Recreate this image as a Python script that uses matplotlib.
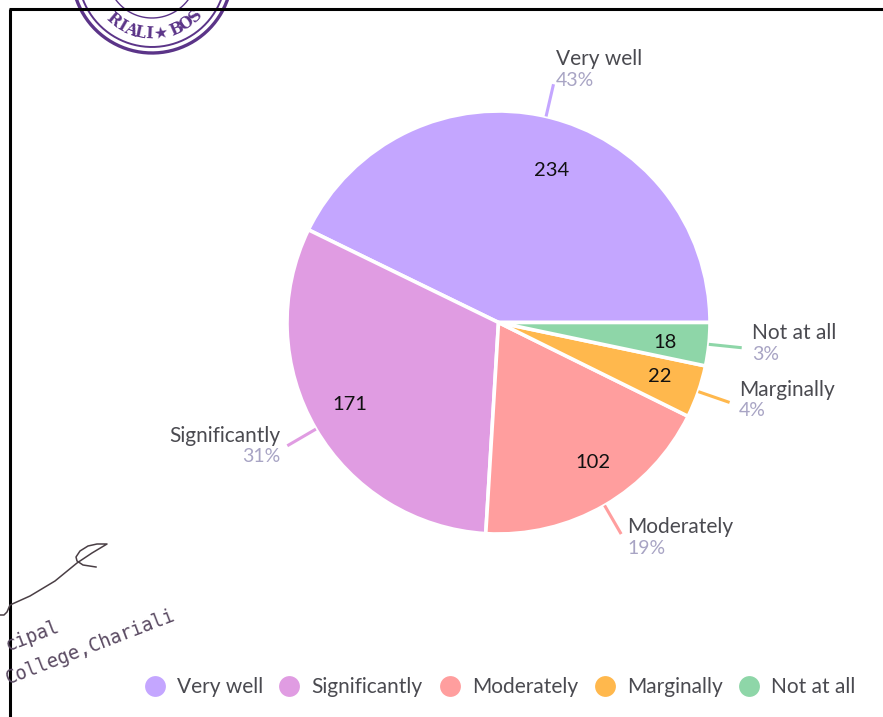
import numpy as np
import matplotlib
matplotlib.use("Agg")
import matplotlib.pyplot as plt

W, H = 883, 717

# data
categories = ["Very well", "Significantly", "Moderately", "Marginally", "Not at all"]
counts = [234, 171, 102, 22, 18]
percents = ["43%", "31%", "19%", "4%", "3%"]
colors = ["#C4A6FF", "#E09CE2", "#FF9E9E", "#FFB84D", "#8ED6A8"]

# label positions in pixels from top left
count_pos = [(552, 171), (350, 405), (593, 462), (660, 377), (665, 342)]
name_pos = [(556, 59), (280, 436), (627, 527), (739, 390), (752, 333)]
name_ha = ["left", "right", "left", "left", "left"]
legend_x = [155, 289, 450, 605, 749]

CX, CY, R = 498.5, 322.5, 211.5
TEXT = "#4A4A50"
PCT = "#A8A4C4"
FONT = "Lato"


def yy(y):
    return H - y


fig = plt.figure(figsize=(W / 100, H / 100), dpi=100)
ax = fig.add_axes([0, 0, 1, 1])
ax.set_xlim(0, W)
ax.set_ylim(0, H)
ax.axis("off")

# stamp, clipped by the top of the page
STAMP = "#5B3488"
sx, sy, t = 152, yy(-27), np.linspace(0, 2 * np.pi, 300)
for r, lw in [(80, 2.4), (74, 1.4), (45, 1.0)]:
    ax.plot(sx + r * np.cos(t), sy + r * np.sin(t), color=STAMP, lw=lw, zorder=1)
for ch, a in zip("RIALI★BOS", [230, 240, 249, 258, 267, 279, 294, 305, 316]):
    rad = np.radians(a)
    ax.text(sx + 61 * np.cos(rad), sy + 61 * np.sin(rad), ch, color=STAMP, fontsize=11.5,
            fontweight="bold", family=["DejaVu Serif", "DejaVu Sans"], rotation=a + 90,
            rotation_mode="anchor", ha="center", va="center", zorder=1)

# page frame
ax.plot([10, 10], [0, yy(9)], color="black", lw=2.2, zorder=2, solid_capstyle="butt")
ax.plot([9, W], [yy(9), yy(9)], color="black", lw=2.2, zorder=2, solid_capstyle="butt")

# signature and college note
sig_x = [0, 4, 7, 10, 30, 55, 77, 92, 107, 97, 88, 80, 76, 77, 83, 96]
sig_y = [615, 615, 612, 605, 596, 581, 563, 553, 544, 544, 546, 551, 557, 561, 565, 567]
ax.plot(sig_x, [yy(v) for v in sig_y], color="#4A3F45", lw=1.1, zorder=3)
ax.text(6, yy(646), "cipal", family="DejaVu Sans Mono", fontsize=13.5, color="#5A4A62",
        rotation=21, rotation_mode="anchor", ha="left", va="center", zorder=3)
ax.text(6, yy(679), "College,Chariali", family="DejaVu Sans Mono", fontsize=13.5, color="#5A4A62",
        rotation=21, rotation_mode="anchor", ha="left", va="center", zorder=3)

# pie
wedges, _ = ax.pie(counts, colors=colors, center=(CX, yy(CY)), radius=R, startangle=0,
                   counterclock=True, frame=True,
                   wedgeprops={"edgecolor": "white", "linewidth": 2.6})
ax.set_xlim(0, W)
ax.set_ylim(0, H)
ax.set_aspect("auto")
ax.axis("off")

# leader lines and labels
for i, w in enumerate(wedges):
    a = np.radians((w.theta1 + w.theta2) / 2)
    ax.plot([CX + 213 * np.cos(a), CX + 243 * np.cos(a)],
            [yy(CY) + 213 * np.sin(a), yy(CY) + 243 * np.sin(a)],
            color=colors[i], lw=2.2, zorder=4)
    ax.text(count_pos[i][0], yy(count_pos[i][1]), str(counts[i]), family=FONT, fontsize=14.5,
            color="#111111", ha="center", va="center", zorder=5)
    nx, ny = name_pos[i]
    ax.text(nx, yy(ny), categories[i], family=FONT, fontsize=15, color=TEXT,
            ha=name_ha[i], va="center", zorder=5)
    ax.text(nx, yy(ny + 21), percents[i], family=FONT, fontsize=14,
            color=PCT, ha=name_ha[i], va="center", zorder=5)

# legend
for i, lx in enumerate(legend_x):
    ax.scatter([lx], [yy(686)], s=225, color=colors[i], linewidths=0, zorder=5)
    ax.text(lx + 22, yy(687), categories[i], family=FONT, fontsize=15, color=TEXT,
            ha="left", va="center", zorder=5)

fig.savefig("out.png", dpi=100)
